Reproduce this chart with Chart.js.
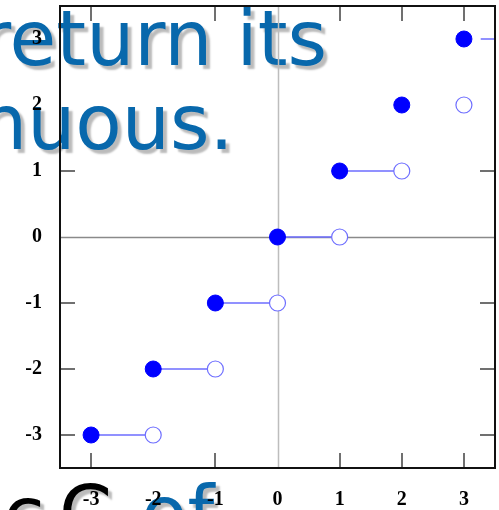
<!DOCTYPE html>
<html>
<head>
<meta charset="utf-8">
<script src="https://cdn.jsdelivr.net/npm/chart.js@4.4.1/dist/chart.umd.min.js"></script>
<style>
  html, body { margin: 0; padding: 0; background: #fff; }
  #wrap { position: relative; width: 499px; height: 510px; overflow: hidden; }
  .big {
    position: absolute;
    font-family: "DejaVu Sans", sans-serif;
    font-size: 76px;
    line-height: 84px;
    color: #0868ac;
    text-shadow: 4px 4px 2px #bbb;
    white-space: nowrap;
  }
  .dark { color: #000; }
  #chart { position: absolute; left: 0; top: 0; }
</style>
</head>
<body>
<div id="wrap">
  <div class="big" style="left:-20px;top:-3px">return its</div>
  <div class="big" style="left:-21px;top:81px">nuous.</div>
  <div class="big dark" style="left:3px;top:473px">c</div>
  <div class="big dark" style="left:59px;top:472px">C</div>
  <div class="big" style="left:141px;top:472px">of</div>
  <canvas id="chart" width="499" height="510"></canvas>
</div>
<script>
// ── Data ──────────────────────────────────────────────
const xTicks = [-3, -2, -1, 0, 1, 2, 3];
const yTicks = [-3, -2, -1, 0, 1, 2, 3];

// floor(x): closed dot at the start of each step, open dot at the end
const closedX = [-3, -2, -1, 0, 1, 2, 3];
const closedY = [-3, -2, -1, 0, 1, 2, 3];
const openX   = [-2, -1, 0, 1, 2, 3];
const openY   = [-3, -2, -1, 0, 1, 2];

// horizontal pieces that are actually drawn
const segStart = [-3, -2, -1, 0, 1, 3.27];
const segEnd   = [-2, -1, 0, 1, 2, 3.5];
const segY     = [-3, -2, -1, 0, 1, 3];

// ── Build datasets ────────────────────────────────────
const segData = [];
segY.forEach((y, i) => {
  segData.push({ x: segStart[i], y }, { x: segEnd[i], y }, { x: null, y: null });
});

const lineBlue = '#6e6eff';

const frame = {
  id: 'frame',
  beforeDatasetsDraw(chart) {
    const { ctx, chartArea: a, scales: { x, y } } = chart;
    ctx.save();
    // zero axes
    ctx.lineWidth = 1.5;
    ctx.strokeStyle = '#bdbdbd';
    const x0 = Math.round(x.getPixelForValue(0)) + 0.5;
    ctx.beginPath(); ctx.moveTo(x0, a.top); ctx.lineTo(x0, a.bottom); ctx.stroke();
    ctx.strokeStyle = '#8a8a8a';
    const y0 = Math.round(y.getPixelForValue(0)) + 0.5;
    ctx.beginPath(); ctx.moveTo(a.left, y0); ctx.lineTo(a.right, y0); ctx.stroke();

    // inward ticks
    ctx.lineWidth = 2;
    ctx.strokeStyle = '#707070';
    const len = 15;
    xTicks.forEach(v => {
      if (v === 0 || v === -2) return;
      const px = Math.round(x.getPixelForValue(v));
      ctx.beginPath();
      ctx.moveTo(px, a.top); ctx.lineTo(px, a.top + len);
      ctx.moveTo(px, a.bottom); ctx.lineTo(px, a.bottom - len);
      ctx.stroke();
    });
    yTicks.forEach(v => {
      if (v === 0 || v >= 2) return;
      const py = Math.round(y.getPixelForValue(v));
      ctx.beginPath();
      ctx.moveTo(a.left, py); ctx.lineTo(a.left + len, py);
      ctx.moveTo(a.right, py); ctx.lineTo(a.right - len, py);
      ctx.stroke();
    });
    ctx.restore();
  },
  afterDraw(chart) {
    const { ctx, chartArea: a } = chart;
    ctx.save();
    ctx.lineWidth = 2;
    ctx.strokeStyle = '#111';
    ctx.strokeRect(a.left, a.top, a.right - a.left, a.bottom - a.top);
    ctx.restore();
  }
};

const tickFont = { family: '"Liberation Serif", "Times New Roman", serif', weight: 'bold', size: 20 };

const noPad = s => {
  s.paddingTop = 0; s.paddingBottom = 0; s.paddingLeft = 0; s.paddingRight = 0;
};

new Chart(document.getElementById('chart'), {
  type: 'scatter',
  data: {
    datasets: [
      {
        type: 'line',
        data: segData,
        borderColor: lineBlue,
        borderWidth: 1.5,
        pointRadius: 0,
        spanGaps: false,
        order: 3,
      },
      {
        data: openX.map((x, i) => ({ x, y: openY[i] })),
        pointRadius: 8,
        pointBackgroundColor: '#fff',
        pointBorderColor: lineBlue,
        pointBorderWidth: 1.2,
        order: 2,
      },
      {
        data: closedX.map((x, i) => ({ x, y: closedY[i] })),
        pointRadius: 8,
        pointBackgroundColor: '#0000ff',
        pointBorderColor: '#0000ff',
        pointBorderWidth: 1,
        order: 1,
      },
    ],
  },
  options: {
    responsive: false,
    animation: false,
    events: [],
    layout: { autoPadding: false, padding: { top: 6, right: 4, left: 0, bottom: 0 } },
    plugins: { legend: { display: false }, tooltip: { enabled: false } },
    scales: {
      x: {
        type: 'linear',
        min: -3.5,
        max: 3.5,
        grid: { display: false, drawTicks: false },
        border: { display: false },
        ticks: { color: '#000', font: tickFont, padding: 20 },
        afterBuildTicks: s => { s.ticks = xTicks.map(v => ({ value: v })); },
        afterFit: s => { s.height = 42; noPad(s); },
      },
      y: {
        type: 'linear',
        min: -3.5,
        max: 3.5,
        grid: { display: false, drawTicks: false },
        border: { display: false },
        ticks: { color: '#000', font: tickFont, padding: 18 },
        afterBuildTicks: s => { s.ticks = yTicks.map(v => ({ value: v })); },
        afterFit: s => { s.width = 60; noPad(s); },
      },
    },
  },
  plugins: [frame],
});
</script>
</body>
</html>
